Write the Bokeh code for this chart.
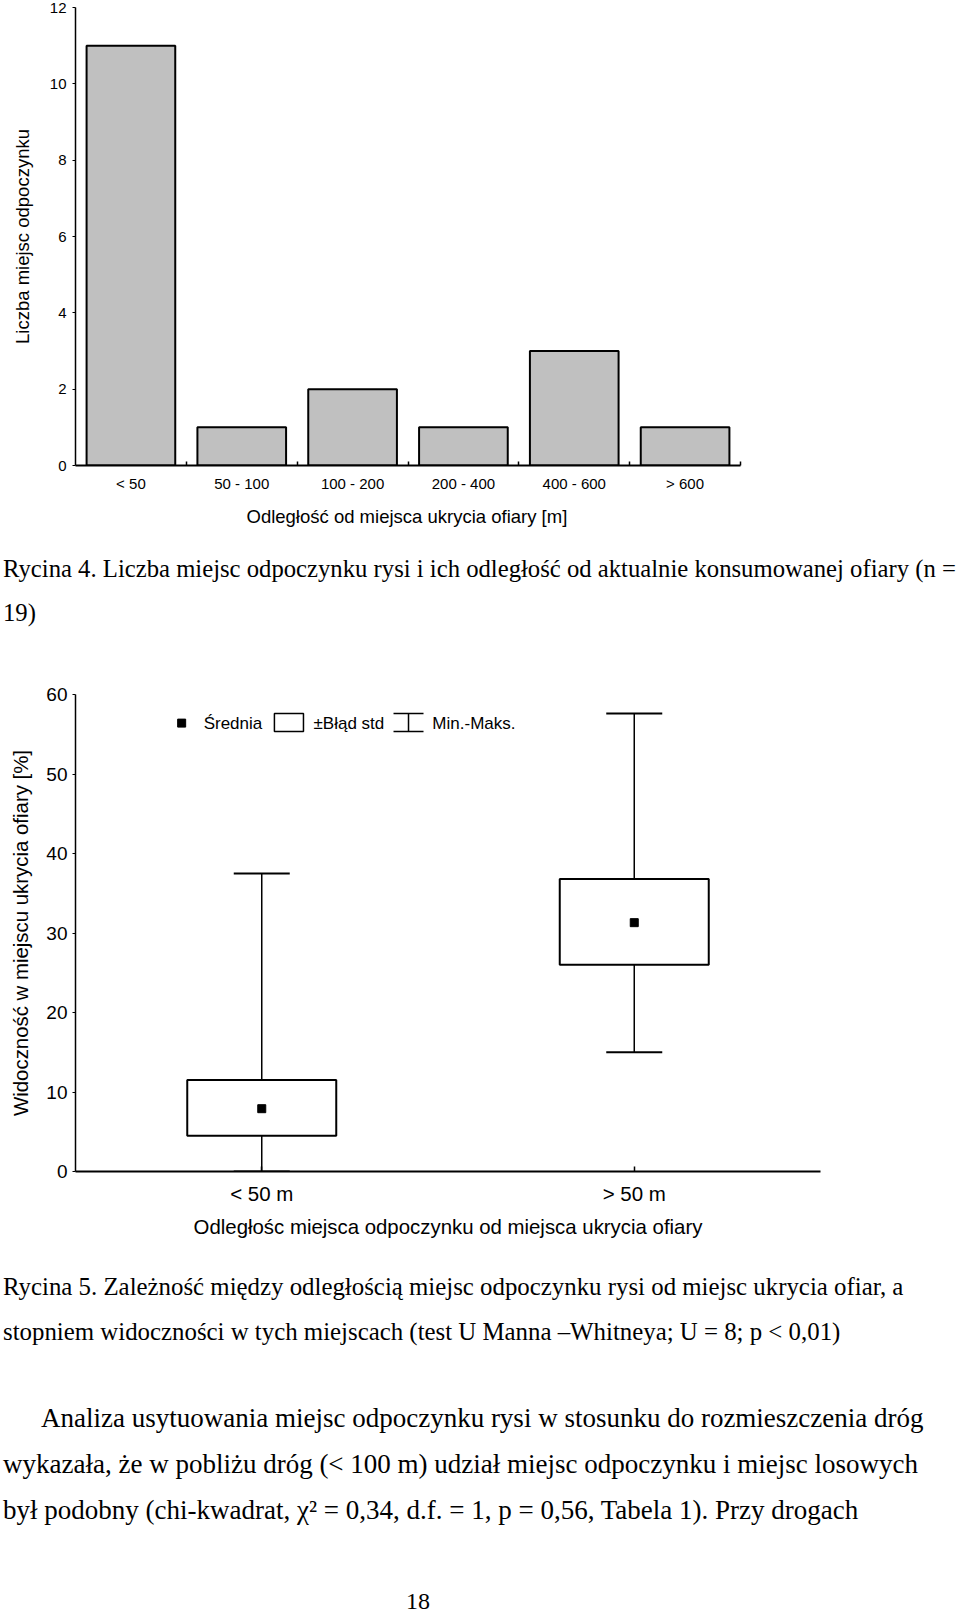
from bokeh.plotting import figure
from bokeh.models import (ColumnDataSource, FixedTicker, Range1d, Div, Whisker, TeeHead, Title)
from bokeh.layouts import column
from bokeh.core.properties import value
from bokeh.embed import file_html
from bokeh.resources import INLINE

# ---------------- data ----------------
cats1 = ["< 50", "50 - 100", "100 - 200", "200 - 400", "400 - 600", "> 600"]
counts1 = [11, 1, 2, 1, 3, 1]
yticks1 = [0, 2, 4, 6, 8, 10, 12]

groups2 = ["< 50 m", "> 50 m"]
mean2 = [7.9, 31.3]
se_low2 = [4.5, 26.0]
se_high2 = [11.5, 36.8]
min2 = [0.0, 15.0]
max2 = [37.5, 57.6]
yticks2 = [0, 10, 20, 30, 40, 50, 60]

legend_labels2 = ["Średnia", "±Błąd std", "Min.-Maks."]

caption4 = ["Rycina 4. Liczba miejsc odpoczynku rysi i ich odległość od aktualnie konsumowanej ofiary (n =",
            "19)"]
caption5 = ["Rycina 5. Zależność między odległością miejsc odpoczynku rysi od miejsc ukrycia ofiar, a",
            "stopniem widoczności w tych miejscach (test U Manna –Whitneya; U = 8; p &lt; 0,01)"]
paragraph = ["Analiza usytuowania miejsc odpoczynku rysi w stosunku do rozmieszczenia dróg",
             "wykazała, że w pobliżu dróg (&lt; 100 m) udział miejsc odpoczynku i miejsc losowych",
             "był podobny (chi-kwadrat, χ² = 0,34, d.f. = 1, p = 0,56, Tabela 1). Przy drogach"]
page_no = "18"

SANS = "Liberation Sans"
SERIF = "Liberation Serif"

# shared frame borders (plots in a column get their frames aligned)
BL, BR = 75, 140
W = 960


def style_axis(ax):
    ax.axis_line_color = "black"
    ax.major_tick_line_color = "black"
    ax.minor_tick_line_color = "black"
    ax.major_label_text_color = "black"
    ax.axis_label_text_color = "black"
    ax.major_label_text_font = SANS
    ax.axis_label_text_font = SANS
    ax.axis_label_text_font_style = "normal"


# ---------------- chart 1 ----------------
x1 = [i + 0.5 for i in range(len(cats1))]
src1 = ColumnDataSource(dict(x=x1, top=counts1))
# axis drawn over the categories only; frame extends further right
x1_end = len(cats1) * (W - BL - BR) / 665.0

p1 = figure(width=W, height=547, x_range=Range1d(0, x1_end), y_range=Range1d(0, 12),
            output_backend="svg", toolbar_location=None,
            min_border_left=BL, min_border_right=BR, min_border_top=7, min_border_bottom=82)
p1.vbar(x="x", top="top", width=0.8, bottom=0, source=src1,
        fill_color="#c0c0c0", line_color="black", line_width=2)

p1.xgrid.visible = False
p1.ygrid.visible = False
p1.outline_line_color = None

xa = p1.xaxis[0]
style_axis(xa)
xa.bounds = (0, len(cats1))
xa.ticker = FixedTicker(ticks=x1, minor_ticks=[i + 1 for i in range(len(cats1))])
xa.major_label_overrides = {x: c for x, c in zip(x1, cats1)}
xa.major_tick_in = 0
xa.major_tick_out = 0
xa.minor_tick_in = 4
xa.minor_tick_out = 0
xa.minor_tick_line_width = 1.5
xa.axis_line_width = 2
xa.major_label_text_font_size = "15px"
xa.major_label_standoff = 9
# x-axis title, centred under the category axis (not under the wider frame)
p1.add_layout(Title(text="Odległość od miejsca ukrycia ofiary [m]", align="left", offset=171,
                    text_font=SANS, text_font_style="normal", text_font_size="18.5px",
                    text_color="black", standoff=18), "below")

ya = p1.yaxis[0]
style_axis(ya)
ya.ticker = FixedTicker(ticks=yticks1, minor_ticks=[])
ya.major_tick_in = 0
ya.major_tick_out = 3
ya.axis_line_width = 1.5
ya.major_label_text_font_size = "15px"
ya.major_label_standoff = 6
ya.axis_label = "Liczba miejsc odpoczynku"
ya.axis_label_text_font_size = "18.5px"
ya.axis_label_standoff = 14

# ---------------- caption 4 ----------------
cap_style = {"font-family": SERIF, "font-size": "24.7px", "line-height": "44px",
             "white-space": "nowrap", "color": "black", "padding-left": "3px",
             "overflow": "hidden"}
div1 = Div(text="<br>".join(caption4), width=W, height=133, styles=cap_style,
           margin=(0, 0, 0, 0))

# ---------------- chart 2 ----------------
x2 = [i + 0.5 for i in range(len(groups2))]
src2 = ColumnDataSource(dict(x=x2, mean=mean2, lo=se_low2, hi=se_high2, mn=min2, mx=max2,
                             left=[v - 0.2 for v in x2], right=[v + 0.2 for v in x2]))

p2 = figure(width=W, height=585, x_range=Range1d(0, len(groups2)), y_range=Range1d(0, 60),
            output_backend="svg", toolbar_location=None,
            min_border_left=BL, min_border_right=BR, min_border_top=14, min_border_bottom=94)
p2.xgrid.visible = False
p2.ygrid.visible = False
p2.outline_line_color = None

wh = Whisker(base="x", lower="mn", upper="mx", source=src2, dimension="height",
             line_color="black", line_width=1.5, level="underlay",
             upper_head=TeeHead(size=56, line_width=2, line_color="black"),
             lower_head=TeeHead(size=56, line_width=2, line_color="black"))
p2.add_layout(wh)
p2.quad(left="left", right="right", bottom="lo", top="hi", source=src2,
        fill_color="white", line_color="black", line_width=2)
p2.scatter(x="x", y="mean", source=src2, marker="square", size=8,
           fill_color="black", line_color="black")

# legend (inside plot, top-left)
ly = 56.4
p2.scatter(x=[0.285], y=[ly], marker="square", size=8, fill_color="black", line_color="black")
p2.quad(left=[0.534], right=[0.612], bottom=[55.35], top=[57.6],
        fill_color="white", line_color="black", line_width=1.5)
leg_src = ColumnDataSource(dict(b=[0.894], lo=[55.35], hi=[57.6]))
p2.add_layout(Whisker(base="b", lower="lo", upper="hi", source=leg_src, dimension="height",
                      line_color="black", line_width=1.5,
                      upper_head=TeeHead(size=30, line_width=1.5, line_color="black"),
                      lower_head=TeeHead(size=30, line_width=1.5, line_color="black")))
p2.text(x=[0.344, 0.639, 0.958], y=[ly, ly, ly], text=legend_labels2,
        text_baseline="middle", text_align="left", text_color="black",
        text_font=value(SANS), text_font_size="17px")

xa2 = p2.xaxis[0]
style_axis(xa2)
xa2.ticker = FixedTicker(ticks=x2, minor_ticks=[])
xa2.major_label_overrides = {x: g for x, g in zip(x2, groups2)}
xa2.major_tick_in = 5
xa2.major_tick_out = 0
xa2.major_tick_line_width = 1.5
xa2.axis_line_width = 2
xa2.major_label_text_font_size = "20.5px"
xa2.major_label_standoff = 10
xa2.axis_label = "Odległośc miejsca odpoczynku od miejsca ukrycia ofiary"
xa2.axis_label_text_font_size = "20.4px"
xa2.axis_label_standoff = 8

ya2 = p2.yaxis[0]
style_axis(ya2)
ya2.ticker = FixedTicker(ticks=yticks2, minor_ticks=[])
ya2.major_tick_in = 0
ya2.major_tick_out = 3
ya2.axis_line_width = 1.5
ya2.major_label_text_font_size = "19px"
ya2.major_label_standoff = 5
ya2.axis_label = "Widoczność w miejscu ukrycia ofiary [%]"
ya2.axis_label_text_font_size = "20.4px"
ya2.axis_label_standoff = 11

# ---------------- caption 5 + paragraph ----------------
text2 = ('<div style="font-size:24.85px; line-height:44.5px; padding-left:3px">'
         + "<br>".join(caption5) + "</div>"
         + '<div style="font-size:27px; line-height:45.75px; margin-top:42px; padding-left:3px">'
         + '<span style="padding-left:38px"></span>' + paragraph[0] + "<br>"
         + "<br>".join(paragraph[1:]) + "</div>")
div2 = Div(text=text2, width=W, height=324,
           styles={"font-family": SERIF, "white-space": "nowrap", "color": "black",
                   "overflow": "hidden"},
           margin=(0, 0, 0, 0))

div3 = Div(text=page_no, width=W, height=24,
           styles={"font-family": SERIF, "font-size": "24px", "line-height": "24px",
                   "white-space": "nowrap", "color": "black", "padding-left": "406px"},
           margin=(0, 0, 0, 0))

layout = column(p1, div1, p2, div2, div3, spacing=0)
open("out.html", "w").write(file_html(layout, INLINE))
